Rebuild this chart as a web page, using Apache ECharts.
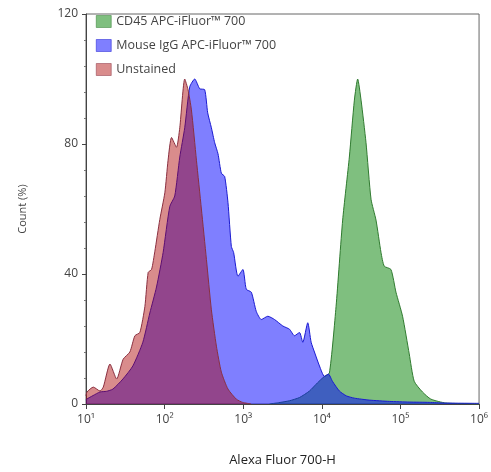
<!DOCTYPE html>
<html>
<head>
<meta charset="utf-8">
<script src="https://cdn.jsdelivr.net/npm/echarts@6/dist/echarts.min.js"></script>
<style>
  html, body { margin: 0; padding: 0; background: #fff; }
  #chart { width: 491px; height: 472px; }
</style>
</head>
<body>
<div id="chart"></div>
<script>
// Histogram outlines: [log10(fluorescence), count %]
const cd45 = [
  [3.335, 0], [3.45, 0.4], [3.589, 1], [3.716, 2], [3.843, 4], [3.944, 6.5], [4.033, 8.5],
  [4.096, 9.5], [4.181, 30], [4.265, 56.6], [4.35, 76], [4.414, 93.5], [4.456, 100],
  [4.499, 93.5], [4.562, 80.4], [4.626, 63], [4.689, 56.6], [4.753, 46.6], [4.794, 42.4],
  [4.879, 41.4], [4.943, 34.4], [5.027, 27], [5.112, 15.4], [5.175, 7], [5.28, 3.7],
  [5.387, 1.5], [5.577, 0.3], [5.873, 0.1], [6.0, 0]
];
const mouseIgG = [
  [1.0, 1.2], [1.009, 1.5], [1.09, 2.6], [1.178, 3.7], [1.26, 3.9], [1.343, 4.6], [1.47, 7.7],
  [1.596, 11.7], [1.723, 19], [1.812, 28], [1.897, 36], [1.981, 46.6], [2.066, 60.8],
  [2.129, 64], [2.193, 76], [2.256, 85], [2.32, 97.6], [2.383, 100], [2.447, 97],
  [2.51, 96.7], [2.548, 89.6], [2.595, 85], [2.637, 80.4], [2.679, 77], [2.722, 71],
  [2.764, 70], [2.806, 62], [2.849, 48.5], [2.878, 46.6], [2.933, 39.3], [2.996, 41.4],
  [3.039, 35.3], [3.103, 34.4], [3.166, 28.5], [3.23, 26], [3.313, 27], [3.398, 26],
  [3.504, 24], [3.589, 23], [3.652, 21], [3.716, 22], [3.758, 19], [3.821, 25],
  [3.864, 19], [3.906, 16], [3.97, 11.7], [4.033, 8.5], [4.084, 9.2], [4.135, 7],
  [4.223, 4], [4.312, 2.5], [4.414, 1.8], [4.604, 1.2], [4.858, 0.8], [5.112, 0.6],
  [5.365, 0.5], [5.556, 0.3], [6.0, 0.2]
];
const unstained = [
  [1.0, 2.5], [1.013, 3.7], [1.093, 5.2], [1.178, 4], [1.22, 5.2], [1.305, 12.3], [1.39, 7.7],
  [1.473, 13.8], [1.558, 16], [1.622, 21], [1.685, 22], [1.749, 30], [1.791, 40.5],
  [1.834, 41.4], [1.876, 47], [1.939, 56.8], [2.003, 65], [2.044, 75], [2.088, 82],
  [2.151, 79], [2.193, 85], [2.256, 100], [2.298, 96.7], [2.341, 90.5], [2.405, 75],
  [2.468, 60], [2.532, 44.5], [2.595, 29], [2.659, 17.8], [2.722, 9.8], [2.806, 4.6],
  [2.912, 1.5], [2.992, 0.5], [3.1, 0]
];
const xTickLabels = ['10¹', '10²', '10³', '10⁴', '10⁵', '10⁶'];
const yTicks = [0, 40, 80, 120];
const seriesNames = ['CD45 APC-iFluor™ 700', 'Mouse IgG APC-iFluor™ 700', 'Unstained'];

const fills = ['rgba(0,128,0,0.5)', 'rgba(0,0,255,0.5)', 'rgba(170,0,0,0.45)'];
const strokes = ['#2f7a2f', '#1a1ad0', '#8a3040'];
const font = 'Open Sans';

const chart = echarts.init(document.getElementById('chart'), null, { renderer: 'canvas' });

const datasets = [cd45, mouseIgG, unstained];
chart.setOption({
  animation: false,
  backgroundColor: '#fff',
  grid: {
    left: 86, right: 10, top: 14, bottom: 67,
    show: true, borderColor: '#666', borderWidth: 1, backgroundColor: 'transparent'
  },
  legend: {
    left: 91, top: 10, orient: 'vertical', itemGap: 11,
    itemWidth: 15, itemHeight: 12, icon: 'rect',
    textStyle: { fontFamily: font, fontSize: 12.5, color: '#444' },
    data: seriesNames.map((n, i) => ({
      name: n,
      itemStyle: { color: fills[i], borderColor: strokes[i], borderWidth: 0.5 }
    }))
  },
  xAxis: {
    type: 'value', min: 1, max: 6, interval: 1,
    name: 'Alexa Fluor 700-H', nameLocation: 'middle', nameGap: 50,
    nameTextStyle: { fontFamily: font, fontSize: 13, color: '#222' },
    axisLine: { show: true, lineStyle: { color: '#444', width: 1 } },
    axisTick: { show: true, length: 5, lineStyle: { color: '#444' } },
    axisLabel: {
      fontFamily: font, fontSize: 12, color: '#444', margin: 10,
      formatter: v => xTickLabels[Math.round(v) - 1] || ''
    },
    splitLine: { show: false }
  },
  yAxis: {
    type: 'value', min: 0, max: 120, interval: 40,
    name: 'Count (%)', nameLocation: 'middle', nameGap: 58,
    nameTextStyle: { fontFamily: font, fontSize: 11, color: '#444' },
    axisLine: { show: true, lineStyle: { color: '#444', width: 1 } },
    axisTick: { show: true, length: 4, lineStyle: { color: '#444' } },
    minorTick: { show: true, splitNumber: 5, length: 2, lineStyle: { color: '#777' } },
    axisLabel: {
      fontFamily: font, fontSize: 12, color: '#444', margin: 8,
      formatter: v => yTicks.includes(v) ? String(v) : ''
    },
    splitLine: { show: false }
  },
  series: datasets.map((d, i) => ({
    name: seriesNames[i],
    type: 'line',
    data: d,
    showSymbol: false,
    symbol: 'none',
    smooth: 0.2,
    lineStyle: { color: strokes[i], width: 1 },
    itemStyle: { color: fills[i] },
    areaStyle: { color: fills[i], opacity: 1 },
    z: 2 + i
  }))
});
</script>
</body>
</html>
